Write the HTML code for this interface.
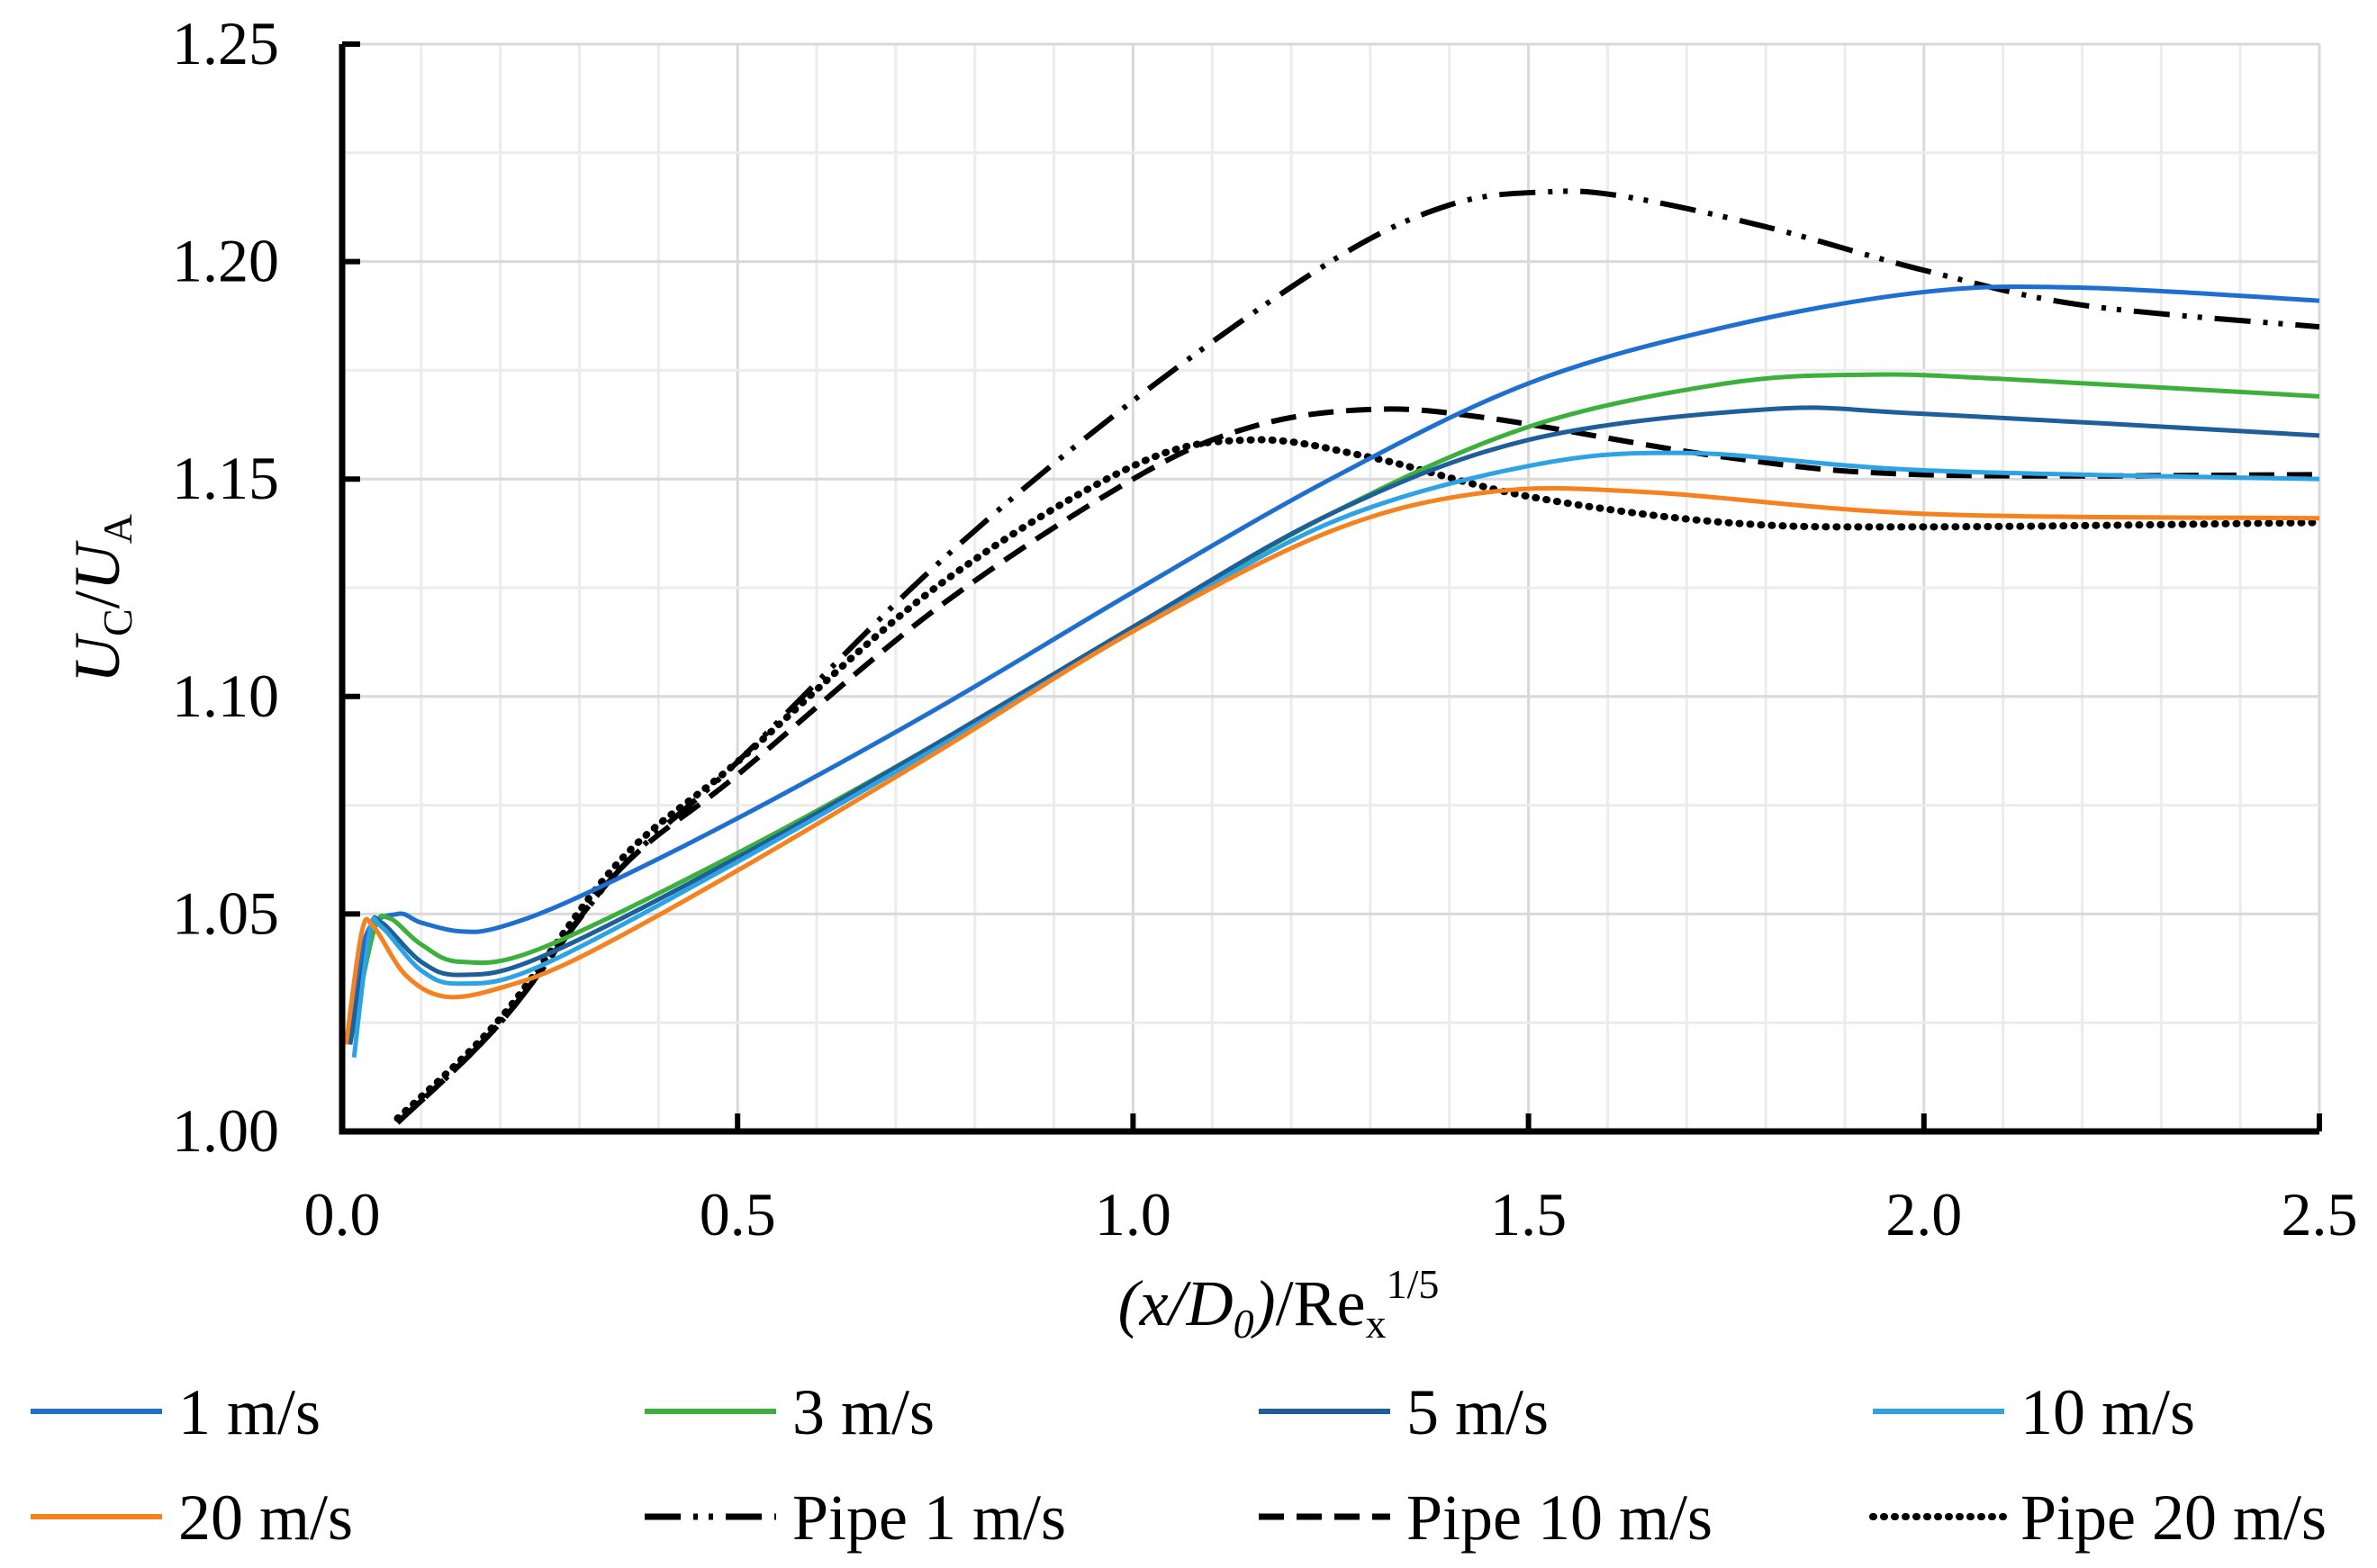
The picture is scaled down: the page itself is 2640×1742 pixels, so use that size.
<!DOCTYPE html>
<html><head><meta charset="utf-8"><style>
html,body{margin:0;padding:0;background:#fff;}
svg{display:block;font-family:"Liberation Serif",serif;}
</style></head><body>
<svg id="chart" width="2640" height="1742" viewBox="0 0 2640 1742">
<g id="grid"></g>
<g id="series"></g>
<g id="axes"></g>
<text transform="translate(132,665) rotate(-90)" text-anchor="middle" font-size="72"><tspan font-style="italic">U</tspan><tspan font-size="46" dy="14">C</tspan><tspan dy="-14">/</tspan><tspan font-style="italic">U</tspan><tspan font-size="46" dy="14">A</tspan></text>
<text x="1420" y="1472" text-anchor="middle" font-size="72"><tspan font-style="italic">(x/D</tspan><tspan font-size="46" dy="14" font-style="italic">0</tspan><tspan dy="-14" font-style="italic">)</tspan>/Re<tspan font-size="46" dy="14">x</tspan><tspan font-size="46" dy="-44">1/5</tspan></text>
<g id="legend"></g>
</svg>
<script>
const xTicks=[0,0.5,1.0,1.5,2.0,2.5];
const xTickLabels=["0.0","0.5","1.0","1.5","2.0","2.5"];
const yTicks=[1.00,1.05,1.10,1.15,1.20,1.25];
const yTickLabels=["1.00","1.05","1.10","1.15","1.20","1.25"];
const seriesNames=["1 m/s","3 m/s","5 m/s","10 m/s","20 m/s","Pipe 1 m/s","Pipe 10 m/s","Pipe 20 m/s"];
const s1x=[0.01,0.03,0.07,0.1,0.15,0.2,0.3,0.5,0.75,1.0,1.25,1.5,1.75,2.0,2.2,2.5];
const s1y=[1.02,1.045,1.05,1.048,1.046,1.047,1.054,1.072,1.097,1.124,1.15,1.172,1.185,1.193,1.194,1.191];
const s3x=[0.01,0.04,0.06,0.1,0.15,0.25,0.5,0.75,1.0,1.25,1.5,1.75,1.93,2.1,2.5];
const s3y=[1.02,1.046,1.049,1.043,1.039,1.042,1.064,1.089,1.116,1.142,1.162,1.172,1.174,1.173,1.169];
const s5x=[0.01,0.035,0.05,0.1,0.15,0.25,0.5,0.75,1.0,1.25,1.5,1.8,2.0,2.5];
const s5y=[1.02,1.046,1.048,1.039,1.036,1.04,1.063,1.089,1.116,1.142,1.159,1.166,1.165,1.160];
const s10x=[0.015,0.035,0.05,0.1,0.15,0.25,0.5,0.75,1.0,1.25,1.5,1.7,2.0,2.5];
const s10y=[1.017,1.046,1.047,1.037,1.034,1.038,1.062,1.088,1.115,1.14,1.153,1.156,1.152,1.150];
const s20x=[0.005,0.025,0.04,0.08,0.13,0.2,0.3,0.5,0.75,1.0,1.25,1.45,1.65,2.0,2.5];
const s20y=[1.02,1.046,1.047,1.036,1.031,1.033,1.04,1.06,1.087,1.115,1.138,1.147,1.147,1.142,1.141];
const p1x=[0.07,0.2,0.35,0.5,0.75,1.0,1.25,1.4,1.52,1.62,1.8,2.0,2.2,2.5];
const p1y=[1.002,1.025,1.06,1.085,1.13,1.168,1.2,1.213,1.216,1.215,1.208,1.198,1.19,1.185];
const p10x=[0.07,0.2,0.35,0.5,0.75,1.0,1.15,1.3,1.45,1.75,2.0,2.5];
const p10y=[1.002,1.025,1.06,1.082,1.12,1.15,1.162,1.166,1.164,1.155,1.151,1.151];
const p20x=[0.07,0.2,0.35,0.5,0.75,1.0,1.15,1.3,1.5,1.75,2.0,2.5];
const p20y=[1.003,1.026,1.062,1.085,1.125,1.153,1.159,1.155,1.146,1.14,1.139,1.14];

const X0=380,X1=2576,Y0=1257,Y1=49;
const NS="http://www.w3.org/2000/svg";
function sx(v){return X0+(v-0)/(2.5-0)*(X1-X0);}
function sy(v){return Y0-(v-1.0)/(1.25-1.0)*(Y0-Y1);}
function mk(tag,attrs,parent){const e=document.createElementNS(NS,tag);for(const k in attrs)e.setAttribute(k,attrs[k]);parent.appendChild(e);return e;}
const grid=document.getElementById('grid'),axes=document.getElementById('axes'),ser=document.getElementById('series'),leg=document.getElementById('legend');
for(let i=1;i<=25;i++){const x=sx(i*0.1);
 const l=mk('line',{x1:x,x2:x,y1:Y1,y2:Y0,stroke:i%5===0?'#d9d9d9':'#ececec','stroke-width':3},grid);
 
 }
for(let i=1;i<=10;i++){const y=sy(1+i*0.025);
 const l=mk('line',{x1:X0,x2:X1,y1:y,y2:y,stroke:i%2===0?'#d9d9d9':'#ececec','stroke-width':3},grid);
 
 }
let a=mk('path',{d:`M${X0},${Y1} V${Y0} H${X1}`,fill:'none',stroke:'#000','stroke-width':7},axes);


yTicks.forEach((v,i)=>{const y=sy(v);
 const t=mk('line',{x1:X0,x2:X0+20,y1:y,y2:y,stroke:'#000','stroke-width':6},axes);
 
 
 const tx=mk('text',{x:310,y:y+22,'text-anchor':'end','font-size':68},axes);tx.textContent=yTickLabels[i];
 
 });
xTicks.forEach((v,i)=>{const x=sx(v);
 const t=mk('line',{x1:x,x2:x,y1:Y0,y2:Y0-20,stroke:'#000','stroke-width':6},axes);
 
 
 const tx=mk('text',{x:x,y:1372,'text-anchor':'middle','font-size':68},axes);tx.textContent=xTickLabels[i];
 
 });
function smooth(xs,ys){const p=xs.map((x,i)=>[sx(x),sy(ys[i])]);let d=`M${p[0][0]},${p[0][1]}`;
 for(let i=0;i<p.length-1;i++){const p0=p[Math.max(0,i-1)],p1=p[i],p2=p[i+1],p3=p[Math.min(p.length-1,i+2)];
  const c1=[p1[0]+(p2[0]-p0[0])/6,p1[1]+(p2[1]-p0[1])/6],c2=[p2[0]-(p3[0]-p1[0])/6,p2[1]-(p3[1]-p1[1])/6];
  d+=` C${c1[0]},${c1[1]} ${c2[0]},${c2[1]} ${p2[0]},${p2[1]}`;}return d;}
const styles=[
 {xs:s1x,ys:s1y,c:'#1f6fd1',dash:'',n:'series-1ms'},
 {xs:s3x,ys:s3y,c:'#3cb03c',dash:'',n:'series-3ms'},
 {xs:s5x,ys:s5y,c:'#1f5f99',dash:'',n:'series-5ms'},
 {xs:s10x,ys:s10y,c:'#2ea3e3',dash:'',n:'series-10ms'},
 {xs:s20x,ys:s20y,c:'#f5821f',dash:'',n:'series-20ms'},
 {xs:p1x,ys:p1y,c:'#000',dash:'40 14 5 12 5 14',n:'series-pipe-1ms'},
 {xs:p10x,ys:p10y,c:'#000',dash:'28 14',n:'series-pipe-10ms'},
 {xs:p20x,ys:p20y,c:'#000',dash:'1 11',n:'series-pipe-20ms',cap:'round'}];
const order=[5,6,7,0,1,2,3,4];
order.forEach(i=>{const s=styles[i];
 const p=mk('path',{d:smooth(s.xs,s.ys),fill:'none',stroke:s.c,'stroke-width':i<5?5:(i===7?8:6),'stroke-dasharray':s.dash,'stroke-linecap':s.cap||'butt'},ser);
 
 });
const colX=[34,716,1398,2080],rowY=[1568,1685];
styles.forEach((s,i)=>{const cx=colX[i%4],cy=rowY[Math.floor(i/4)];
 const g=mk('g',{},leg);
 
 
 mk('line',{x1:cx,x2:cx+146,y1:cy,y2:cy,stroke:s.c,'stroke-width':i<5?6:(i===7?8:7),'stroke-dasharray':s.dash,'stroke-linecap':s.cap||'butt'},g);
 const t=mk('text',{x:cx+164,y:cy+25,'font-size':72},g);t.textContent=seriesNames[i];});
</script>
</body></html>
